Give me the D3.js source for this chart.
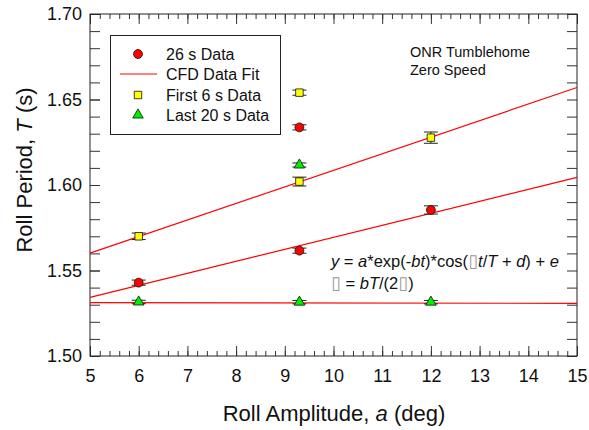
<!DOCTYPE html>
<html>
<head>
<meta charset="utf-8">
<script src="https://cdn.jsdelivr.net/npm/d3@7"></script>
<style>
    body { margin: 0; background: #fff; }
    svg { font-family: "Liberation Sans", Arial, sans-serif; }
</style>
</head>
<body>
<svg id="chart" width="589" height="430"></svg>
<script>
// roll amplitude (deg) of each run
var amp_26s   = [ 6, 9.3, 9.3, 12 ];
var per_26s   = [ 1.5429, 1.5616, 1.6337, 1.5854 ];
var err_26s   = [ 0.0015, 0.0015, 0.0015, 0.0024 ];

var amp_first = [ 6, 9.3, 9.3, 12 ];
var per_first = [ 1.5700, 1.6020, 1.6540, 1.6277 ];
var err_first = [ 0.0019, 0.0026, 0.0015, 0.0033 ];

var amp_last  = [ 6, 9.3, 9.3, 12 ];
var per_last  = [ 1.5316, 1.5315, 1.6117, 1.5315 ];
var err_last  = [ 0.0010, 0.0010, 0.0012, 0.0010 ];

// CFD fit lines, value at amplitude 5 and 15
var fit_ends  = [ 5, 15 ];
var fit_first = [ 1.5602, 1.6570 ];
var fit_26s   = [ 1.5343, 1.6045 ];
var fit_last  = [ 1.5312, 1.5308 ];

var x_ticks = [ 5, 6, 7, 8, 9, 10, 11, 12, 13, 14, 15 ];
var y_ticks = [ 1.50, 1.55, 1.60, 1.65, 1.70 ];

var legend_labels = [ '26 s Data', 'CFD Data Fit', 'First 6 s Data', 'Last 20 s Data' ];

(function() {
    var svg = d3.select( '#chart' );
    var p_left = 90, p_right = 577, p_top = 14, p_bottom = 356;
    var x = d3.scaleLinear().domain( [ 5, 15 ] ).range( [ p_left, p_right ] );
    var y = d3.scaleLinear().domain( [ 1.5, 1.7 ] ).range( [ p_bottom, p_top ] );

    /** Axis with inward ticks, labels optional */
    function drawAxis( axis_fn, scale, values, size, pos, labels, pad ) {
        var g = svg.append( 'g' )
            .attr( 'transform', pos )
            .call( axis_fn( scale ).tickValues( values ).tickSizeInner( size ).tickSizeOuter( 0 )
                .tickPadding( pad || 0 )
                .tickFormat( labels ? labels : '' ) );
        g.select( '.domain' ).remove();
        g.selectAll( 'line' ).attr( 'stroke', '#333' );
        g.selectAll( 'text' ).attr( 'font-size', 18 ).attr( 'fill', '#111' ).attr( 'font-family', '"Liberation Sans", Arial, sans-serif' );
        return g;
    }

    var x_minor = d3.range( 50, 151, 2 ).map( function( d ) { return d / 10; } );
    var y_minor = d3.range( 150, 171, 1 ).map( function( d ) { return d / 100; } );

    drawAxis( d3.axisBottom, x, x_minor, -5, 'translate(0,' + p_bottom + ')' );
    drawAxis( d3.axisBottom, x, x_ticks, -10, 'translate(0,' + p_bottom + ')', d3.format( 'd' ), 13 );
    drawAxis( d3.axisTop, x, x_minor, -5, 'translate(0,' + p_top + ')' );
    drawAxis( d3.axisTop, x, x_ticks, -10, 'translate(0,' + p_top + ')' );
    drawAxis( d3.axisLeft, y, y_minor, -10, 'translate(' + p_left + ',0)' );
    drawAxis( d3.axisLeft, y, y_ticks, -10, 'translate(' + p_left + ',0)', d3.format( '.2f' ), 8 );
    drawAxis( d3.axisRight, y, y_minor, -10, 'translate(' + p_right + ',0)' );

    svg.append( 'rect' )
        .attr( 'x', p_left ).attr( 'y', p_top )
        .attr( 'width', p_right - p_left ).attr( 'height', p_bottom - p_top )
        .attr( 'fill', 'none' ).attr( 'stroke', '#222' ).attr( 'stroke-width', 1 );

    // fit lines
    var line = d3.line().x( function( d ) { return x( d[ 0 ] ); } ).y( function( d ) { return y( d[ 1 ] ); } );
    [ fit_first, fit_26s, fit_last ].forEach( function( fit ) {
        svg.append( 'path' )
            .datum( d3.zip( fit_ends, fit ) )
            .attr( 'd', line )
            .attr( 'fill', 'none' ).attr( 'stroke', '#ff0000' ).attr( 'stroke-width', 1.2 );
    });

    /** Error bars for one series */
    function drawErrors( xs, ys, es ) {
        var g = svg.append( 'g' ).attr( 'stroke', '#222' ).attr( 'stroke-width', 1 );
        xs.forEach( function( xv, i ) {
            var cx = x( xv ), y0 = y( ys[ i ] - es[ i ] ), y1 = y( ys[ i ] + es[ i ] );
            g.append( 'line' ).attr( 'x1', cx ).attr( 'x2', cx ).attr( 'y1', y0 ).attr( 'y2', y1 );
            g.append( 'line' ).attr( 'x1', cx - 7 ).attr( 'x2', cx + 7 ).attr( 'y1', y0 ).attr( 'y2', y0 );
            g.append( 'line' ).attr( 'x1', cx - 7 ).attr( 'x2', cx + 7 ).attr( 'y1', y1 ).attr( 'y2', y1 );
        });
    }

    var sym_circle = d3.symbol().type( d3.symbolCircle ).size( 62 );
    var sym_square = d3.symbol().type( d3.symbolSquare ).size( 56 );
    var sym_tri = d3.symbol().type( d3.symbolTriangle ).size( 48 );

    /** Markers for one series */
    function drawMarkers( xs, ys, sym, color ) {
        svg.append( 'g' ).selectAll( 'path' )
            .data( d3.zip( xs, ys ) )
            .enter().append( 'path' )
            .attr( 'd', sym )
            .attr( 'transform', function( d ) { return 'translate(' + x( d[ 0 ] ) + ',' + y( d[ 1 ] ) + ')'; } )
            .attr( 'fill', color ).attr( 'stroke', '#111' ).attr( 'stroke-width', 0.8 );
    }

    drawErrors( amp_last, per_last, err_last );
    drawErrors( amp_first, per_first, err_first );
    drawErrors( amp_26s, per_26s, err_26s );
    drawMarkers( amp_last, per_last, sym_tri, '#00ee00' );
    drawMarkers( amp_first, per_first, sym_square, '#ffff00' );
    drawMarkers( amp_26s, per_26s, sym_circle, '#ff0000' );

    // legend
    var legend = svg.append( 'g' );
    legend.append( 'rect' )
        .attr( 'x', 110.5 ).attr( 'y', 35.5 ).attr( 'width', 170 ).attr( 'height', 99 )
        .attr( 'fill', '#fff' ).attr( 'stroke', '#222' );
    var row_y = [ 54, 74, 95, 115 ];
    legend_labels.forEach( function( label, i ) {
        legend.append( 'text' )
            .attr( 'x', 166 ).attr( 'y', row_y[ i ] + 5.5 )
            .attr( 'font-size', 16 ).attr( 'fill', '#111' )
            .text( label );
    });
    legend.append( 'line' )
        .attr( 'x1', 120 ).attr( 'x2', 157 ).attr( 'y1', row_y[ 1 ] ).attr( 'y2', row_y[ 1 ] )
        .attr( 'stroke', '#ff0000' ).attr( 'stroke-width', 1.2 );
    [ [ sym_circle, '#ff0000', 0 ], [ sym_square, '#ffff00', 2 ], [ sym_tri, '#00ee00', 3 ] ].forEach( function( m ) {
        legend.append( 'path' )
            .attr( 'd', m[ 0 ] )
            .attr( 'transform', 'translate(138,' + row_y[ m[ 2 ] ] + ')' )
            .attr( 'fill', m[ 1 ] ).attr( 'stroke', '#111' ).attr( 'stroke-width', 0.8 );
    });

    // annotations
    svg.append( 'text' ).attr( 'x', 410 ).attr( 'y', 57 ).attr( 'font-size', 14.5 ).attr( 'fill', '#111' ).text( 'ONR Tumblehome' );
    svg.append( 'text' ).attr( 'x', 410 ).attr( 'y', 75 ).attr( 'font-size', 14.5 ).attr( 'fill', '#111' ).text( 'Zero Speed' );

    /** Text made of upright / italic / missing-glyph pieces */
    function richText( px, py, parts ) {
        var t = svg.append( 'text' ).attr( 'x', px ).attr( 'y', py ).attr( 'font-size', 16.5 ).attr( 'fill', '#111' );
        parts.forEach( function( p ) {
            var s = t.append( 'tspan' ).text( p[ 0 ] );
            if ( p[ 1 ] == 'i' ) s.attr( 'font-style', 'italic' );
            if ( p[ 1 ] == 'box' ) s.attr( 'fill', '#999' ).attr( 'font-family', '"DejaVu Sans"' )
                .attr( 'font-style', 'italic' ).attr( 'font-size', 18 );
        });
    }
    richText( 331, 267, [ [ 'y', 'i' ], [ ' = ' ], [ 'a', 'i' ], [ '*exp(-' ], [ 'bt', 'i' ], [ ')*cos(' ], [ '\u25AF', 'box' ],
        [ 't', 'i' ], [ '/' ], [ 'T', 'i' ], [ ' + ' ], [ 'd', 'i' ], [ ') + ' ], [ 'e', 'i' ] ] );
    richText( 331, 289, [ [ '\u25AF', 'box' ], [ ' = ' ], [ 'bT', 'i' ], [ '/(2' ], [ '\u25AF', 'box' ], [ ')' ] ] );

    // axis titles
    var xt = svg.append( 'text' ).attr( 'x', 334 ).attr( 'y', 421 ).attr( 'text-anchor', 'middle' )
        .attr( 'font-size', 22 ).attr( 'fill', '#111' );
    xt.append( 'tspan' ).text( 'Roll Amplitude, ' );
    xt.append( 'tspan' ).attr( 'font-style', 'italic' ).text( 'a' );
    xt.append( 'tspan' ).text( ' (deg)' );

    var yt = svg.append( 'text' ).attr( 'transform', 'translate(32,170) rotate(-90)' ).attr( 'text-anchor', 'middle' )
        .attr( 'font-size', 22 ).attr( 'fill', '#111' );
    yt.append( 'tspan' ).text( 'Roll Period, ' );
    yt.append( 'tspan' ).attr( 'font-style', 'italic' ).text( 'T' );
    yt.append( 'tspan' ).text( ' (s)' );
})();
</script>
</body>
</html>
